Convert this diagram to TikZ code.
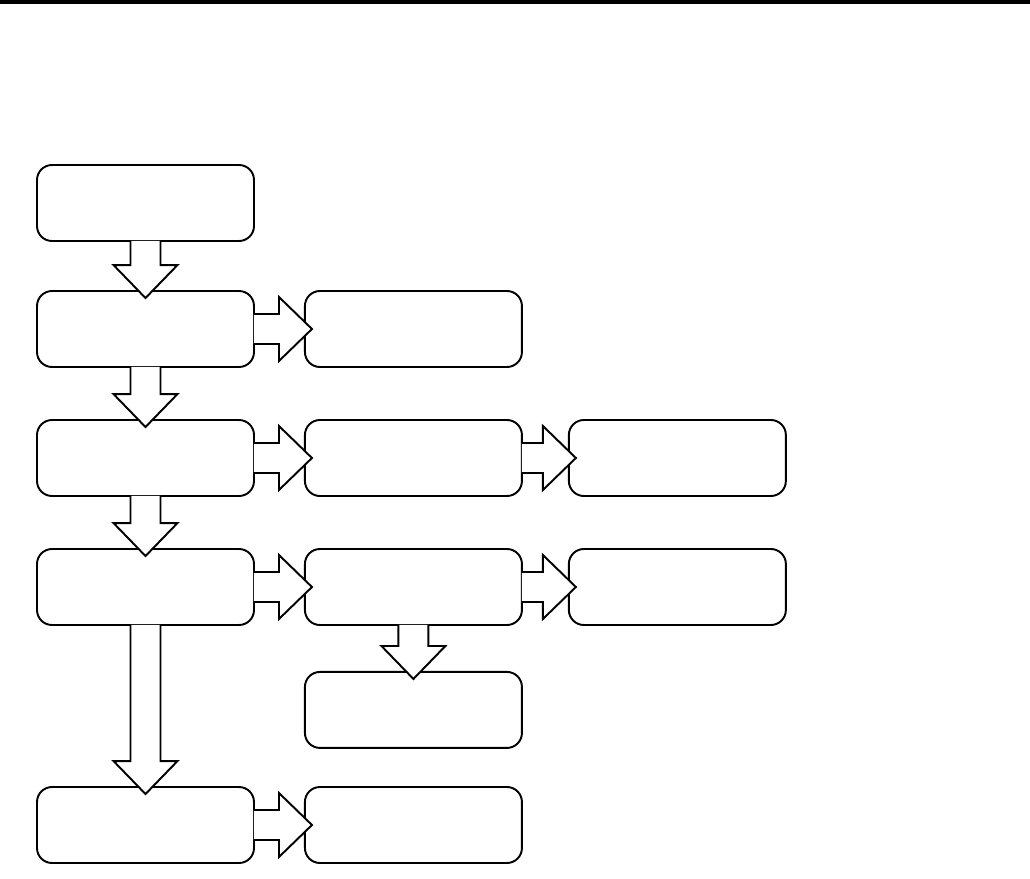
\documentclass[tikz,border=0pt]{standalone}
\usepackage{tikz}
\usetikzlibrary{calc, positioning}

\tikzset{
  box/.style={draw, rounded corners=0.3cm, line width=1.1pt,
    minimum width=4.34cm, minimum height=1.52cm, inner sep=0pt},
  blk/.style={draw, fill=white, line width=1.1pt, line join=miter}
}

% block arrow, left to right
\newcommand{\harrow}[2]{%
  \filldraw[blk] let \p1=(#1.east), \p2=(#2.west) in
    (\x1-0.02cm,\y1+0.3cm) -- (\x2-0.5cm,\y1+0.3cm) -- (\x2-0.5cm,\y1+0.64cm)
    -- (\x2+0.16cm,\y1) -- (\x2-0.5cm,\y1-0.64cm) -- (\x2-0.5cm,\y1-0.3cm)
    -- (\x1-0.02cm,\y1-0.3cm);}
% block arrow, top to bottom
\newcommand{\varrow}[2]{%
  \filldraw[blk] let \p1=(#1.south), \p2=(#2.north) in
    (\x1-0.3cm,\y1+0.02cm) -- (\x1-0.3cm,\y2+0.5cm) -- (\x1-0.64cm,\y2+0.5cm)
    -- (\x1,\y2-0.16cm) -- (\x1+0.64cm,\y2+0.5cm) -- (\x1+0.3cm,\y2+0.5cm)
    -- (\x1+0.3cm,\y1+0.02cm);}

\begin{document}
\begin{tikzpicture}
              [node distance=1cm]
              \useasboundingbox (0,0) rectangle (20.6,-17.58);
              \draw[line width=2pt] (0,-0.04) -- (20.6,-0.04);

              % nodes %
              \node[box] (a0) at (2.91,-4.06) {};
              \node[box] (a1) at (2.91,-6.58) {};
              \node[box] (a2) at (2.91,-9.16) {};
              \node[box] (a3) at (2.91,-11.74) {};
              \node[box] (a5) at (2.91,-16.5) {};
              \node[box, right=0.98cm of a1] (b1) {};
              \node[box, right=0.98cm of a2] (b2) {};
              \node[box, right=0.98cm of a3] (b3) {};
              \node[box, below=0.9cm of b3] (b4) {};
              \node[box, right=0.98cm of a5] (b5) {};
              \node[box, right=0.9cm of b2] (c2) {};
              \node[box, right=0.9cm of b3] (c3) {};

              % edges %
              \varrow{a0}{a1}
              \varrow{a1}{a2}
              \varrow{a2}{a3}
              \varrow{a3}{a5}
              \varrow{b3}{b4}
              \harrow{a1}{b1}
              \harrow{a2}{b2}
              \harrow{a3}{b3}
              \harrow{a5}{b5}
              \harrow{b2}{c2}
              \harrow{b3}{c3}
            \end{tikzpicture}
\end{document}
